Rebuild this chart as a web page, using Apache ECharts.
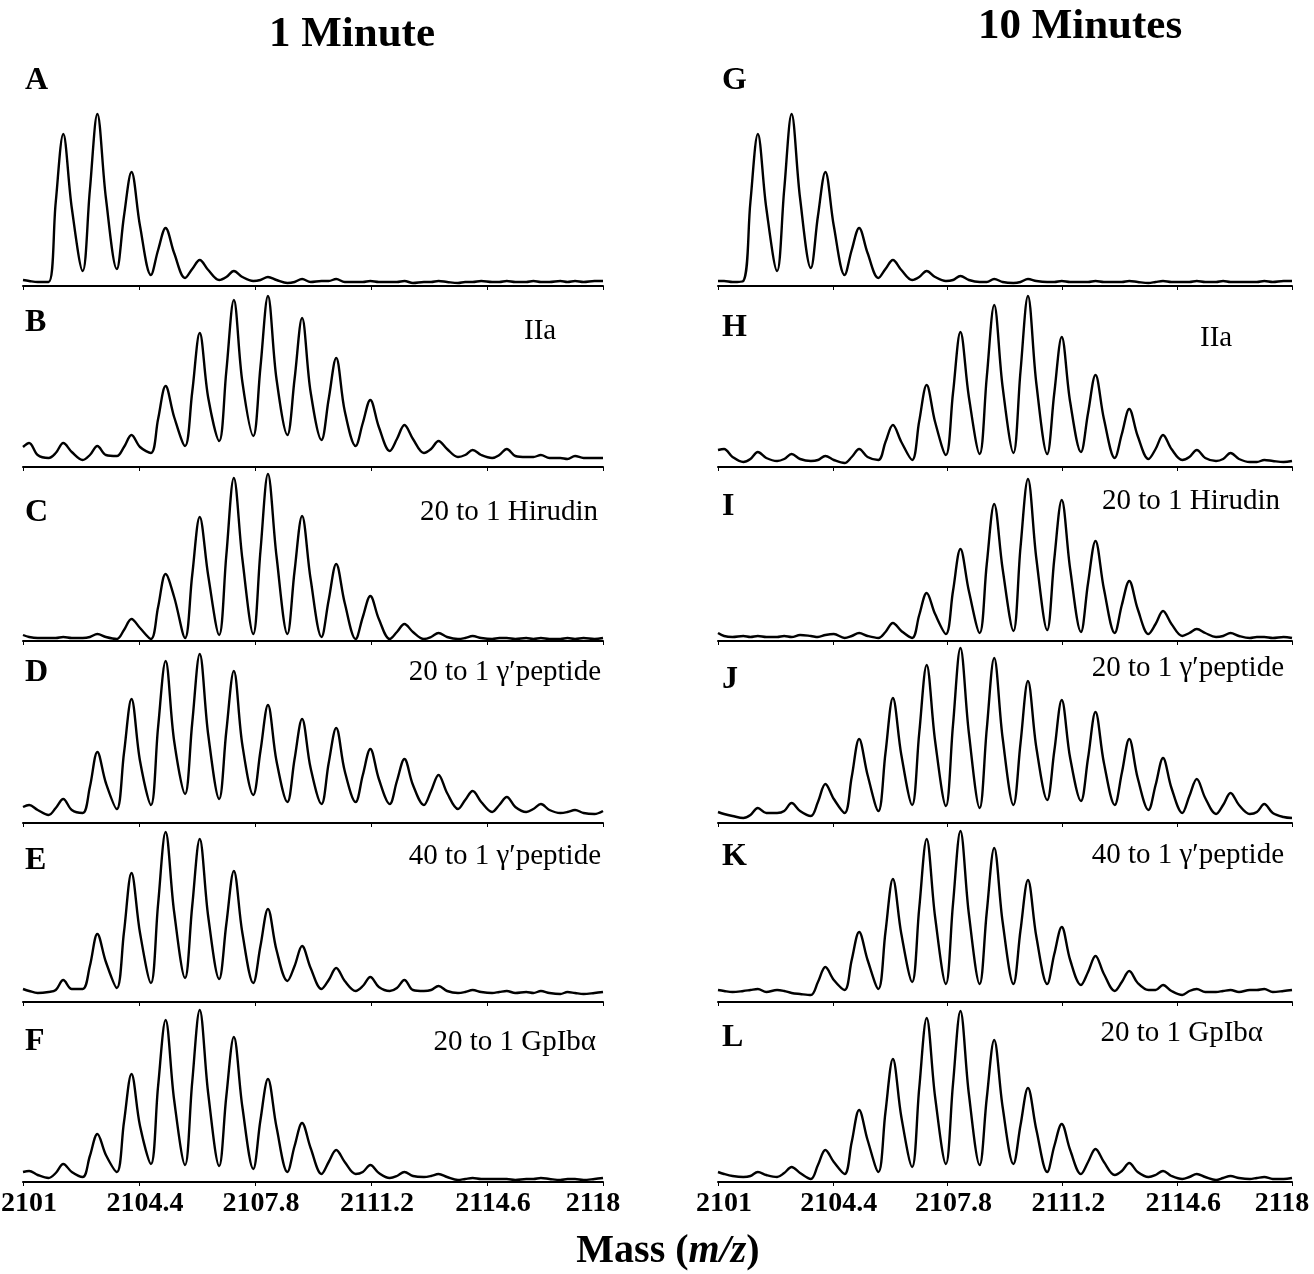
<!DOCTYPE html>
<html>
<head>
<meta charset="utf-8">
<script src="https://cdn.jsdelivr.net/npm/echarts@6/dist/echarts.min.js"></script>
<style>
  html, body { margin: 0; background: #fff; }
  #chart { width: 1314px; height: 1274px; }
</style>
</head>
<body>
<div id="chart"></div>
<script>
// m/z sample points shared by all spectra (valley / left flank / apex / right flank per isotope)
const mass = [
  2101.0, 2101.18, 2101.43, 2101.75,
  2101.96, 2102.18, 2102.43, 2102.75,
  2102.96, 2103.18, 2103.43, 2103.75,
  2103.96, 2104.18, 2104.43, 2104.75,
  2104.96, 2105.18, 2105.43, 2105.75,
  2105.96, 2106.18, 2106.43, 2106.75,
  2106.96, 2107.18, 2107.43, 2107.75,
  2107.96, 2108.18, 2108.43, 2108.75,
  2108.96, 2109.18, 2109.43, 2109.75,
  2109.96, 2110.18, 2110.43, 2110.75,
  2110.96, 2111.18, 2111.43, 2111.75,
  2111.96, 2112.18, 2112.43, 2112.75,
  2112.96, 2113.18, 2113.43, 2113.75,
  2113.96, 2114.18, 2114.43, 2114.75,
  2114.96, 2115.18, 2115.43, 2115.75,
  2115.96, 2116.18, 2116.43, 2116.75,
  2116.96, 2117.18, 2117.43, 2117.75,
  2118.0
];

const tickLabels = ['2101', '2104.4', '2107.8', '2111.2', '2114.6', '2118'];

// intensities (a.u.), 1 minute
const specA = [6, 5,4,4, 84,152,78,15, 96,172,88,17, 70,114,60,11, 36,58,33,8, 17,26,16,6, 9,15,9,5, 6,9,6,3, 4,7,4,5, 5,7,4,4, 4,5,4,4, 4,5,3,4, 4,5,4,3, 4,4,5,4, 4,5,4,4, 5,4,4,5, 4,5,4,5, 5];
const specB = [20, 24,12,9, 14,24,15,7, 12,21,12,11, 20,32,20,14, 48,81,50,21, 75,134,69,26, 96,167,85,31, 100,171,88,32, 88,149,75,27, 68,109,56,21, 44,67,40,16, 28,42,28,14, 18,26,18,10, 12,17,12,9, 12,18,11,10, 10,12,9,9, 8,11,9,9, 9];
const specC = [6, 4,3,3, 3,4,3,3, 4,7,4,2, 11,22,13,2, 34,67,44,3, 66,124,65,6, 86,163,82,7, 90,167,85,7, 70,125,62,4, 41,77,38,2, 24,45,22,2, 9,17,9,2, 4,8,4,2, 3,5,3,2, 3,3,2,3, 2,3,2,2, 3,2,3,2, 3];
const specD = [16, 18,13,8, 15,24,13,10, 36,71,40,14, 70,124,62,18, 96,162,82,29, 100,169,88,24, 92,152,78,28, 72,118,62,21, 64,104,55,19, 60,95,52,21, 48,74,44,19, 42,64,38,18, 32,48,30,14, 23,32,21,11, 18,26,16,11, 14,19,13,10, 11,13,10,9, 12];
const specE = [13, 11,9,10, 12,22,13,13, 36,68,40,14, 70,129,69,19, 98,170,90,24, 96,163,85,23, 78,131,69,19, 56,93,52,21, 36,56,34,13, 22,34,21,11, 16,25,15,11, 14,22,12,11, 12,16,11,9, 10,12,10,9, 10,11,9,10, 9,11,9,8, 10,9,8,9, 10];
const specF = [10, 11,7,4, 9,18,10,5, 26,48,27,10, 60,108,56,18, 96,162,82,17, 100,172,88,16, 86,145,75,13, 62,103,55,10, 36,59,34,8, 20,32,20,8, 10,17,9,4, 6,10,6,5, 6,8,5,2, 3,4,3,3, 3,3,2,3, 3,4,3,2, 3,3,2,3, 4];

// intensities (a.u.), 10 minutes
const specG = [5, 5,4,5, 84,152,78,15, 96,172,88,18, 70,114,60,11, 36,58,33,8, 17,26,16,6, 9,15,9,5, 6,10,6,4, 4,7,4,3, 4,7,5,4, 4,5,4,4, 4,5,4,4, 4,5,4,3, 4,5,4,4, 4,5,4,4, 5,4,4,4, 4,5,4,5, 5];
const specH = [17, 18,10,5, 8,15,9,6, 8,13,8,6, 7,11,7,4, 10,18,10,7, 25,42,25,7, 46,82,45,12, 74,135,70,13, 90,162,80,14, 96,171,83,13, 74,130,65,15, 54,92,48,9, 33,58,31,8, 18,32,18,7, 10,17,9,6, 8,14,8,5, 5,7,6,5, 6];
const specI = [8, 5,4,5, 4,5,4,4, 5,4,6,5, 4,6,7,3, 5,8,5,3, 9,18,10,3, 26,48,27,7, 50,92,50,8, 77,137,72,10, 94,162,82,11, 82,141,72,9, 58,100,52,8, 36,60,32,7, 17,30,17,5, 8,12,8,4, 5,8,5,3, 4,4,3,4, 3];
const specJ = [11, 9,7,5, 8,15,10,10, 12,20,12,7, 21,39,24,10, 46,84,48,12, 70,125,68,18, 90,158,82,17, 98,175,90,15, 94,165,85,18, 80,142,75,23, 72,123,65,22, 65,111,60,18, 50,84,45,13, 38,65,35,10, 27,44,25,9, 18,30,18,9, 11,19,10,6, 5];
const specK = [12, 11,10,11, 12,13,10,12, 11,9,8,7, 20,35,22,12, 42,70,42,13, 70,123,68,20, 94,163,85,18, 98,171,88,18, 90,154,80,18, 72,122,65,18, 48,75,42,17, 30,46,28,11, 20,31,19,12, 12,17,11,7, 11,13,10,10, 11,12,10,12, 12,13,10,11, 12];
const specL = [10, 8,6,5, 6,10,7,5, 9,15,9,3, 17,32,20,8, 40,72,42,10, 70,123,65,15, 94,164,85,18, 98,171,88,17, 84,142,75,18, 57,94,52,10, 36,58,32,8, 20,33,20,7, 11,19,10,5, 7,11,6,3, 5,8,5,2, 4,6,4,3, 4,5,3,3, 4];

const columnTitles = ['1 Minute', '10 Minutes'];
const panelLetters = ['A', 'B', 'C', 'D', 'E', 'F', 'G', 'H', 'I', 'J', 'K', 'L'];
const panelNotes = ['', 'IIa', '20 to 1 Hirudin', '20 to 1 \u03b3\u2032peptide', '40 to 1 \u03b3\u2032peptide', '20 to 1 GpIb\u03b1',
                    '', 'IIa', '20 to 1 Hirudin', '20 to 1 \u03b3\u2032peptide', '40 to 1 \u03b3\u2032peptide', '20 to 1 GpIb\u03b1'];
const spectra = [specA, specB, specC, specD, specE, specF, specG, specH, specI, specJ, specK, specL];

const serif = '"Liberation Serif", "Times New Roman", serif';
const axisY = [286, 467, 641, 823, 1002, 1182];   // baseline of each row
const colLeft = [23, 718];
const colWidth = [580, 574];
const panelH = 180;

// label placement (letter y, note x, note y)
const letterY = [81, 323, 513, 673, 861, 1042, 81, 328, 507, 680, 857, 1038];
const noteX = [0, 524, 598, 601, 601, 596, 0, 1200, 1280, 1284, 1284, 1263];
const noteY = [0, 331, 512, 672, 856, 1042, 0, 338, 501, 668, 855, 1033];

const tickFont = { fontFamily: serif, fontWeight: 'bold', fontSize: 28, color: '#000' };

const chart = echarts.init(document.getElementById('chart'));

const grid = [], xAxis = [], yAxis = [], series = [], graphic = [];

spectra.forEach((spec, i) => {
    const col = i < 6 ? 0 : 1;
    const row = i % 6;
    grid.push({
        left: colLeft[col],
        width: colWidth[col],
        top: axisY[row] - panelH,
        height: panelH,
        outerBoundsMode: 'none'
    });
    xAxis.push({
        gridIndex: i,
        type: 'value',
        min: 2101,
        max: 2118,
        interval: 3.4,
        axisLine: { lineStyle: { color: '#000', width: 2 } },
        axisTick: { show: true, length: 4, lineStyle: { color: '#000', width: 1 } },
        axisLabel: {
            show: row === 5,
            showMinLabel: true,
            showMaxLabel: true,
            margin: 8,
            color: '#000',
            fontFamily: serif,
            fontWeight: 'bold',
            fontSize: 28,
            formatter: (v) => {
                const k = tickLabels.findIndex(t => Math.abs(parseFloat(t) - v) < 1e-6);
                if (k < 0) return '';
                return (k === tickLabels.length - 1 ? '{e|' : '{m|') + tickLabels[k] + '}';
            },
            rich: {
                m: Object.assign({ padding: [0, 0, 0, 12] }, tickFont),
                e: Object.assign({ padding: [0, 20, 0, 0] }, tickFont)
            }
        },
        splitLine: { show: false }
    });
    yAxis.push({ gridIndex: i, type: 'value', min: 0, max: panelH, show: false });
    series.push({
        type: 'line',
        xAxisIndex: i,
        yAxisIndex: i,
        data: mass.map((m, k) => [m, spec[k]]),
        showSymbol: false,
        smooth: 0.35,
        silent: true,
        lineStyle: { color: '#000', width: 2.4 }
    });

    graphic.push({
        type: 'text',
        x: col === 0 ? 25 : 722,
        y: letterY[i],
        style: { text: panelLetters[i], font: 'bold 32px ' + serif, fill: '#000', verticalAlign: 'middle' }
    });
    if (panelNotes[i]) {
        graphic.push({
            type: 'text',
            x: noteX[i],
            y: noteY[i],
            style: {
                text: panelNotes[i], font: '29px ' + serif, fill: '#000',
                align: panelNotes[i] === 'IIa' ? 'left' : 'right', verticalAlign: 'middle'
            }
        });
    }
});

graphic.push(
    { type: 'text', x: 352, y: 35, style: { text: columnTitles[0], font: 'bold 43px ' + serif, fill: '#000', align: 'center', verticalAlign: 'middle' } },
    { type: 'text', x: 1080, y: 27, style: { text: columnTitles[1], font: 'bold 43px ' + serif, fill: '#000', align: 'center', verticalAlign: 'middle' } },
    {
        type: 'text', x: 668, y: 1252,
        style: {
            text: '{b|Mass (}{i|m/z}{b|)}',
            align: 'center', verticalAlign: 'middle', fill: '#000',
            rich: {
                b: { font: 'bold 40px ' + serif, fill: '#000' },
                i: { font: 'italic bold 40px ' + serif, fill: '#000' }
            }
        }
    }
);

chart.setOption({
    animation: false,
    backgroundColor: '#fff',
    grid: grid,
    xAxis: xAxis,
    yAxis: yAxis,
    series: series,
    graphic: graphic
});

window.addEventListener('resize', () => chart.resize());
</script>
</body>
</html>
